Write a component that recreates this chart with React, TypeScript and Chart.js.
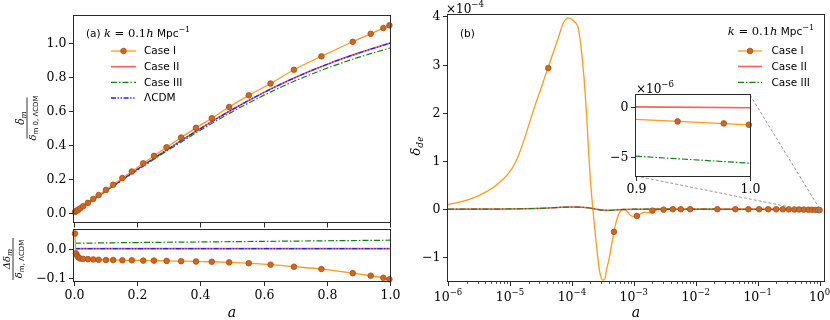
import React, { useEffect, useRef } from "react";
import { Chart, registerables } from "chart.js";
Chart.register(...registerables);

const W = 830;
const H = 320;

// ---------------- Left panel data ----------------
const aGrid = [0, 0.05, 0.1, 0.15, 0.2, 0.25, 0.3, 0.35, 0.4, 0.45, 0.5, 0.55, 0.6, 0.65, 0.7, 0.75, 0.8, 0.85, 0.9, 0.95, 1.0];
const lcdmTop = [0, 0.064, 0.128, 0.192, 0.255, 0.317, 0.378, 0.438, 0.496, 0.553, 0.607, 0.659, 0.708, 0.754, 0.797, 0.837, 0.874, 0.909, 0.941, 0.971, 1.0];
const case2Top = [0, 0.064, 0.128, 0.192, 0.255, 0.317, 0.378, 0.438, 0.496, 0.553, 0.607, 0.659, 0.708, 0.754, 0.797, 0.837, 0.874, 0.909, 0.941, 0.971, 1.0];
const case3Top = [0, 0.063, 0.126, 0.188, 0.25, 0.311, 0.371, 0.429, 0.486, 0.541, 0.594, 0.644, 0.692, 0.736, 0.778, 0.816, 0.852, 0.885, 0.916, 0.944, 0.971];

const aMark = [0.003, 0.006, 0.01, 0.014, 0.02, 0.029, 0.044, 0.061, 0.078, 0.101, 0.124, 0.153, 0.183, 0.219, 0.253, 0.293, 0.339, 0.386, 0.436, 0.491, 0.553, 0.622, 0.696, 0.783, 0.882, 0.939, 0.979, 0.998];
const case1Top = [0.004, 0.008, 0.013, 0.018, 0.026, 0.038, 0.058, 0.081, 0.104, 0.134, 0.165, 0.204, 0.243, 0.291, 0.335, 0.386, 0.443, 0.5, 0.557, 0.623, 0.692, 0.762, 0.843, 0.922, 1.008, 1.055, 1.089, 1.105];
const case1Delta = [0.052, -0.016, -0.024, -0.03, -0.034, -0.035, -0.036, -0.037, -0.038, -0.039, -0.039, -0.04, -0.04, -0.041, -0.041, -0.042, -0.043, -0.044, -0.045, -0.047, -0.05, -0.055, -0.062, -0.07, -0.084, -0.093, -0.1, -0.105];

const aDelta = [0.003, 0.2, 0.4, 0.6, 0.8, 1.0];
const case2Delta = [0, 0, 0, 0, 0, 0];
const case3Delta = [0.0186, 0.021, 0.023, 0.025, 0.027, 0.029];
const lcdmDelta = [0, 0, 0, 0, 0, 0];

const leftYTicks = [0, 0.2, 0.4, 0.6, 0.8, 1.0];
const leftXTicks = [0, 0.2, 0.4, 0.6, 0.8, 1.0];
const deltaYTicks = [0, -0.1];

// ---------------- Right panel data (delta_de in units of 1e-4) ----------------
const logACase1 = [-6, -5.8, -5.6, -5.4, -5.2, -5, -4.9, -4.8, -4.7, -4.6, -4.5, -4.4, -4.3, -4.2, -4.14, -4.06, -4.0, -3.95, -3.9, -3.86, -3.82, -3.79, -3.76, -3.73, -3.7, -3.66, -3.6, -3.55, -3.5, -3.47, -3.44, -3.39, -3.32, -3.25, -3.2, -3.16, -3.1, -3.05, -3.0, -2.95, -2.88, -2.82, -2.77, -2.72, -2.68, -2.6, -2.5, -2.0, -1.0, -0.5, 0];
const deCase1 = [0.1, 0.15, 0.23, 0.35, 0.52, 0.78, 1.0, 1.33, 1.73, 2.13, 2.5, 2.88, 3.25, 3.63, 3.86, 3.97, 3.94, 3.88, 3.78, 3.45, 2.96, 2.5, 1.92, 1.2, 0.6, 0.0, -0.78, -1.3, -1.47, -1.46, -1.26, -0.98, -0.47, -0.12, -0.02, 0.0, -0.06, -0.13, -0.15, -0.14, -0.09, -0.06, -0.07, -0.06, -0.03, -0.01, 0, 0, 0, -0.005, -0.018];
const logAMark = [-4.38, -3.32, -2.95, -2.7, -2.52, -2.37, -2.24, -2.09, -1.65, -1.36, -1.15, -0.976, -0.83, -0.7, -0.593, -0.496, -0.406, -0.33, -0.254, -0.179, -0.124, -0.071, -0.018, 0];
const deMark = [2.93, -0.47, -0.14, -0.03, -0.01, 0, 0, 0, 0, 0, 0, 0, 0, 0, -0.002, -0.003, -0.005, -0.006, -0.008, -0.01, -0.012, -0.015, -0.017, -0.018];
const logAFlat = [-6, -5, -4.6, -4.3, -4.1, -3.9, -3.75, -3.6, -3.5, -3.4, -3.25, -3.0, -2.0, -1.0, -0.5, -0.2, 0];
const deCase2 = [0, 0.005, 0.015, 0.03, 0.045, 0.045, 0.03, 0.0, -0.02, -0.025, -0.01, 0, 0, 0, 0, -0.001, -0.001];
const deCase3 = [0, 0.005, 0.015, 0.03, 0.045, 0.045, 0.03, 0.0, -0.02, -0.025, -0.01, 0, 0, -0.005, -0.015, -0.03, -0.057];
const rightYTicks = [4, 3, 2, 1, 0, -1];
const rightXExps = [-6, -5, -4, -3, -2, -1, 0];

// ---------------- Inset data (units of 1e-6) ----------------
const insetA = [0.9, 1.0];
const insetCase1 = [-1.27, -1.81];
const insetCase2 = [-0.02, -0.1];
const insetCase3 = [-4.95, -5.65];
const insetAMark = [0.9365, 0.977, 0.999];
const insetCase1Mark = [-1.47, -1.67, -1.8];
const insetYTicks = [0, -5];
const insetXTicks = [0.9, 1.0];

// ---------------- Layout ----------------
const LT = { l: 74, t: 16, r: 390, b: 222 };
const LB = { l: 74, t: 230, r: 390, b: 281 };
const RM = { l: 448, t: 15, r: 824, b: 281 };
const IN = { l: 636, t: 95, r: 750, b: 176 };

const ORANGE = "#ff9a1a";
const MFILL = "#d5651c";
const MEDGE = "#a34c16";
const RED = "rgba(255,30,30,0.72)";
const GREEN = "#118011";
const BLUE = "#1f1fff";
const AXC = "#2a2a2a";
const SERIF = '"DejaVu Serif", serif';
const SANS = '"DejaVu Sans", sans-serif';
const TICK = `12.5px ${SERIF}`;
const DASHDOT = [6, 2, 1.5, 2];
const DASHDOTDOT = [5, 1.6, 1.4, 1.6, 1.4, 1.6];

const xy = (xs: number[], ys: number[]) => xs.map((x, i) => ({ x, y: ys[i] }));
const lxy = (ls: number[], ys: number[]) => ls.map((l, i) => ({ x: Math.pow(10, l), y: ys[i] }));

type Part = { t: string; font: string; dy?: number };
function rich(ctx: CanvasRenderingContext2D, parts: Part[], x: number, y: number, align: "left" | "center" | "right" = "left") {
  let w = 0;
  for (const p of parts) { ctx.font = p.font; w += ctx.measureText(p.t).width; }
  let cx = align === "left" ? x : align === "center" ? x - w / 2 : x - w;
  ctx.textAlign = "left";
  ctx.textBaseline = "alphabetic";
  ctx.fillStyle = "#000";
  for (const p of parts) { ctx.font = p.font; ctx.fillText(p.t, cx, y + (p.dy || 0)); cx += ctx.measureText(p.t).width; }
  return w;
}

function seg(ctx: CanvasRenderingContext2D, x1: number, y1: number, x2: number, y2: number) {
  ctx.beginPath(); ctx.moveTo(x1, y1); ctx.lineTo(x2, y2); ctx.stroke();
}

function frame(c: Chart) {
  const ctx = c.ctx; const a = c.chartArea;
  ctx.save(); ctx.strokeStyle = AXC; ctx.lineWidth = 1; ctx.setLineDash([]);
  ctx.strokeRect(Math.round(a.left) - 0.5, Math.round(a.top) - 0.5, Math.round(a.right - a.left) + 1, Math.round(a.bottom - a.top) + 1);
  ctx.restore();
}

function yTicks(c: Chart, vals: number[], fmt: (v: number) => string, len = 4.5) {
  const ctx = c.ctx; const s = c.scales.y; const L = Math.round(c.chartArea.left) - 0.5;
  ctx.save(); ctx.strokeStyle = AXC; ctx.lineWidth = 1;
  for (const v of vals) {
    const y = Math.round(s.getPixelForValue(v)) + 0.5;
    seg(ctx, L, y, L - len, y);
    ctx.font = TICK; ctx.fillStyle = "#000"; ctx.textAlign = "right"; ctx.textBaseline = "middle";
    ctx.fillText(fmt(v), L - len - 2.5, y);
  }
  ctx.restore();
}

function xTicks(c: Chart, vals: number[], fmt: ((v: number) => string) | null, len = 4.5, baseOff = 17) {
  const ctx = c.ctx; const s = c.scales.x; const B = Math.round(c.chartArea.bottom) + 0.5;
  ctx.save(); ctx.strokeStyle = AXC; ctx.lineWidth = 1;
  for (const v of vals) {
    const x = Math.round(s.getPixelForValue(v)) + 0.5;
    seg(ctx, x, B, x, B + len);
    if (fmt) {
      ctx.font = TICK; ctx.fillStyle = "#000"; ctx.textAlign = "center"; ctx.textBaseline = "alphabetic";
      ctx.fillText(fmt(v), x, B + baseOff);
    }
  }
  ctx.restore();
}

const fmt1 = (v: number) => (v < 0 ? "\u2212" : "") + Math.abs(v).toFixed(1);
const fmt0 = (v: number) => (v < 0 ? "\u2212" : "") + Math.abs(v).toFixed(0);

type LegStyle = { color: string; dash: number[]; width: number; marker?: boolean };
function legendEntry(ctx: CanvasRenderingContext2D, x0: number, x1: number, y: number, st: LegStyle, label: string, tx: number) {
  ctx.save();
  ctx.strokeStyle = st.color; ctx.lineWidth = st.width; ctx.setLineDash(st.dash);
  seg(ctx, x0, y, x1, y);
  ctx.setLineDash([]);
  if (st.marker) {
    ctx.beginPath(); ctx.arc((x0 + x1) / 2, y, 2.8, 0, Math.PI * 2);
    ctx.fillStyle = MFILL; ctx.fill(); ctx.strokeStyle = MEDGE; ctx.lineWidth = 0.8; ctx.stroke();
  }
  ctx.font = `10.5px ${SANS}`; ctx.fillStyle = "#000"; ctx.textAlign = "left"; ctx.textBaseline = "middle";
  ctx.fillText(label, tx, y + 0.5);
  ctx.restore();
}

function kTitle(prefix: Part[]): Part[] {
  return [
    ...prefix,
    { t: "k", font: `italic 11.5px ${SERIF}` },
    { t: " = 0.1", font: `11.5px ${SERIF}` },
    { t: "h", font: `italic 11.5px ${SERIF}` },
    { t: " Mpc", font: `10.5px ${SANS}` },
    { t: "\u22121", font: `8px ${SERIF}`, dy: -5 },
  ];
}

const ST_C1: LegStyle = { color: ORANGE, dash: [], width: 1.3, marker: true };
const ST_C2: LegStyle = { color: RED, dash: [], width: 1.6 };
const ST_C3: LegStyle = { color: GREEN, dash: DASHDOT, width: 1.2 };
const ST_L: LegStyle = { color: BLUE, dash: DASHDOTDOT, width: 1.3 };

function makeConfig(area: { l: number; t: number; r: number; b: number }, xs: any, ys: any, datasets: any[], after: (c: Chart) => void, before?: (c: Chart) => void): any {
  return {
    type: "line",
    data: { datasets },
    options: {
      animation: false,
      responsive: false,
      devicePixelRatio: 1,
      events: [],
      layout: { padding: { left: area.l, top: area.t, right: W - area.r, bottom: H - area.b } },
      scales: { x: { display: false, ...xs }, y: { display: false, ...ys } },
      plugins: { legend: { display: false }, tooltip: { enabled: false } },
      elements: { point: { radius: 0 } },
    },
    plugins: [{ id: "deco", beforeDraw: (c: Chart) => before && before(c), afterDraw: (c: Chart) => after(c) }],
  };
}

const lineDs = (data: any[], st: LegStyle, order: number, extra: any = {}) => ({
  data, borderColor: st.color, borderWidth: st.width, borderDash: st.dash, pointRadius: 0,
  fill: false, order, clip: false, cubicInterpolationMode: "monotone", ...extra,
});

const markerDs = (data: any[], order: number, extra: any = {}) => ({
  data, borderColor: ORANGE, borderWidth: 1.3, pointRadius: 2.8, pointBackgroundColor: MFILL,
  pointBorderColor: MEDGE, pointBorderWidth: 0.8, fill: false, order, clip: false,
  cubicInterpolationMode: "monotone", ...extra,
});

function fracLabel(ctx: CanvasRenderingContext2D, cx: number, cy: number, num: Part[], den: Part[], barLen: number) {
  ctx.save();
  ctx.translate(cx, cy);
  ctx.rotate(-Math.PI / 2);
  rich(ctx, num, 0, -3, "center");
  ctx.strokeStyle = "#000"; ctx.lineWidth = 0.8;
  seg(ctx, -barLen / 2, 0, barLen / 2, 0);
  rich(ctx, den, 0, 9, "center");
  ctx.restore();
}

function leftTopCfg() {
  const ds = [
    lineDs(xy(aGrid, case2Top), ST_C2, 4),
    lineDs(xy(aGrid, case3Top), ST_C3, 3),
    lineDs(xy(aGrid, lcdmTop), ST_L, 2),
    markerDs(xy(aMark, case1Top), 1),
  ];
  return makeConfig(LT, { type: "linear", min: 0, max: 1 }, { type: "linear", min: -0.055, max: 1.16 }, ds, (c) => {
    const ctx = c.ctx;
    frame(c);
    yTicks(c, leftYTicks, fmt1);
    xTicks(c, leftXTicks, null, 5);
    fracLabel(ctx, 27, 118,
      [{ t: "\u03b4", font: `italic 10.5px ${SERIF}` }, { t: "m", font: `italic 7.5px ${SERIF}`, dy: 2 }],
      [{ t: "\u03b4", font: `italic 10px ${SERIF}` }, { t: "m 0, \u039bCDM", font: `7px ${SANS}`, dy: 2 }], 41);
    rich(ctx, kTitle([{ t: "(a) ", font: `10.5px ${SANS}` }]), 86, 36.5);
    legendEntry(ctx, 111, 136, 51, ST_C1, "Case I", 144);
    legendEntry(ctx, 111, 136, 66.7, ST_C2, "Case II", 144);
    legendEntry(ctx, 111, 136, 82.3, ST_C3, "Case III", 144);
    legendEntry(ctx, 111, 136, 98, ST_L, "\u039bCDM", 144);
  });
}

function leftBottomCfg() {
  const ds = [
    lineDs(xy(aDelta, case2Delta), ST_C2, 4, { cubicInterpolationMode: "default" }),
    lineDs(xy(aDelta, case3Delta), ST_C3, 3),
    lineDs(xy(aDelta, lcdmDelta), ST_L, 2, { cubicInterpolationMode: "default" }),
    markerDs(xy(aMark, case1Delta), 1),
  ];
  return makeConfig(LB, { type: "linear", min: 0, max: 1 }, { type: "linear", min: -0.111, max: 0.064 }, ds, (c) => {
    const ctx = c.ctx;
    frame(c);
    yTicks(c, deltaYTicks, fmt1);
    xTicks(c, leftXTicks, fmt1, 4.5, 17);
    rich(ctx, [{ t: "a", font: `italic 14px ${SERIF}` }], 232, 316.5, "center");
    fracLabel(ctx, 13, 259,
      [{ t: "\u0394\u03b4", font: `italic 10px ${SERIF}` }, { t: "m", font: `italic 7.5px ${SERIF}`, dy: 2 }],
      [{ t: "\u03b4", font: `italic 10px ${SERIF}` }, { t: "m, \u039bCDM", font: `7px ${SANS}`, dy: 2 }], 42);
  });
}

function rightCfg() {
  const ds = [
    lineDs(lxy(logACase1, deCase1), { color: ORANGE, dash: [], width: 1.3 }, 4),
    lineDs(lxy(logAFlat, deCase2), ST_C2, 3),
    lineDs(lxy(logAFlat, deCase3), ST_C3, 2),
    markerDs(lxy(logAMark, deMark), 1, { showLine: false }),
  ];
  return makeConfig(RM, { type: "logarithmic", min: 1e-6, max: 1.18 }, { type: "linear", min: -1.49, max: 4.03 }, ds, (c) => {
    const ctx = c.ctx;
    const sx = c.scales.x; const sy = c.scales.y;
    // inset connectors
    ctx.save();
    ctx.strokeStyle = "#8a8a8a"; ctx.lineWidth = 0.9; ctx.setLineDash([3, 2]);
    const rx1 = sx.getPixelForValue(1.0), rx0 = sx.getPixelForValue(0.9);
    const ryT = sy.getPixelForValue(0.0117), ryB = sy.getPixelForValue(-0.069);
    seg(ctx, IN.r, IN.t, rx1, ryT);
    seg(ctx, IN.l, IN.b, rx0, ryB);
    ctx.strokeRect(rx0, ryT, rx1 - rx0, ryB - ryT);
    ctx.restore();
    frame(c);
    yTicks(c, rightYTicks, fmt0);
    // minor ticks
    const B = Math.round(c.chartArea.bottom) + 0.5;
    ctx.save(); ctx.strokeStyle = AXC; ctx.lineWidth = 0.8;
    for (let e = -6; e <= 0; e++) {
      for (let m = 2; m <= 9; m++) {
        const v = m * Math.pow(10, e);
        if (v > 1.18) continue;
        const x = Math.round(sx.getPixelForValue(v)) + 0.5;
        seg(ctx, x, B, x, B + 2.5);
      }
    }
    ctx.restore();
    xTicks(c, rightXExps.map((e) => Math.pow(10, e)), null, 4.5);
    for (const e of rightXExps) {
      const x = sx.getPixelForValue(Math.pow(10, e));
      rich(ctx, [{ t: "10", font: `12.5px ${SERIF}` }, { t: e < 0 ? "\u2212" + Math.abs(e) : String(e), font: `8.5px ${SERIF}`, dy: -6 }], x, 301, "center");
    }
    rich(ctx, [{ t: "a", font: `italic 14px ${SERIF}` }], 636, 316.5, "center");
    rich(ctx, [{ t: "\u00d710", font: `12px ${SERIF}` }, { t: "\u22124", font: `8.5px ${SERIF}`, dy: -6 }], 446, 13);
    rich(ctx, [{ t: "(b)", font: `10.5px ${SANS}` }], 460, 36.5);
    // y label
    ctx.save(); ctx.translate(420, 146); ctx.rotate(-Math.PI / 2);
    rich(ctx, [{ t: "\u03b4", font: `italic 13px ${SERIF}` }, { t: "de", font: `italic 9px ${SERIF}`, dy: 2.5 }], 0, 0, "center");
    ctx.restore();
    rich(ctx, kTitle([]), 814, 34.5, "right");
    legendEntry(ctx, 738, 762, 51, ST_C1, "Case I", 771.5);
    legendEntry(ctx, 738, 762, 66.5, ST_C2, "Case II", 771.5);
    legendEntry(ctx, 738, 762, 82.3, ST_C3, "Case III", 771.5);
  });
}

function insetCfg() {
  const ds = [
    lineDs(xy(insetA, insetCase1), { color: ORANGE, dash: [], width: 1.3 }, 4, { cubicInterpolationMode: "default" }),
    lineDs(xy(insetA, insetCase2), ST_C2, 3, { cubicInterpolationMode: "default" }),
    lineDs(xy(insetA, insetCase3), ST_C3, 2, { cubicInterpolationMode: "default" }),
    markerDs(xy(insetAMark, insetCase1Mark), 1, { showLine: false }),
  ];
  return makeConfig(IN, { type: "linear", min: 0.9, max: 1.0 }, { type: "linear", min: -6.93, max: 1.17 }, ds, (c) => {
    const ctx = c.ctx;
    frame(c);
    yTicks(c, insetYTicks, fmt0);
    xTicks(c, insetXTicks, fmt1, 4.5, 16);
    rich(ctx, [{ t: "\u00d710", font: `12px ${SERIF}` }, { t: "\u22126", font: `8.5px ${SERIF}`, dy: -6 }], 636, 92.5);
  }, (c) => {
    const a = c.chartArea; const ctx = c.ctx;
    ctx.save(); ctx.fillStyle = "#fff"; ctx.fillRect(a.left, a.top, a.right - a.left, a.bottom - a.top); ctx.restore();
  });
}

export default function App() {
  const r1 = useRef<HTMLCanvasElement>(null);
  const r2 = useRef<HTMLCanvasElement>(null);
  const r3 = useRef<HTMLCanvasElement>(null);
  const r4 = useRef<HTMLCanvasElement>(null);
  useEffect(() => {
    const charts = [
      new Chart(r1.current!, leftTopCfg()),
      new Chart(r2.current!, leftBottomCfg()),
      new Chart(r3.current!, rightCfg()),
      new Chart(r4.current!, insetCfg()),
    ];
    return () => charts.forEach((ch) => ch.destroy());
  }, []);
  const st: React.CSSProperties = { position: "absolute", left: 0, top: 0, width: W, height: H };
  return (
    <div style={{ position: "absolute", left: 0, top: 0, width: W, height: H, background: "#fff", overflow: "hidden" }}>
      <canvas ref={r1} width={W} height={H} style={st} />
      <canvas ref={r2} width={W} height={H} style={st} />
      <canvas ref={r3} width={W} height={H} style={st} />
      <canvas ref={r4} width={W} height={H} style={st} />
    </div>
  );
}
